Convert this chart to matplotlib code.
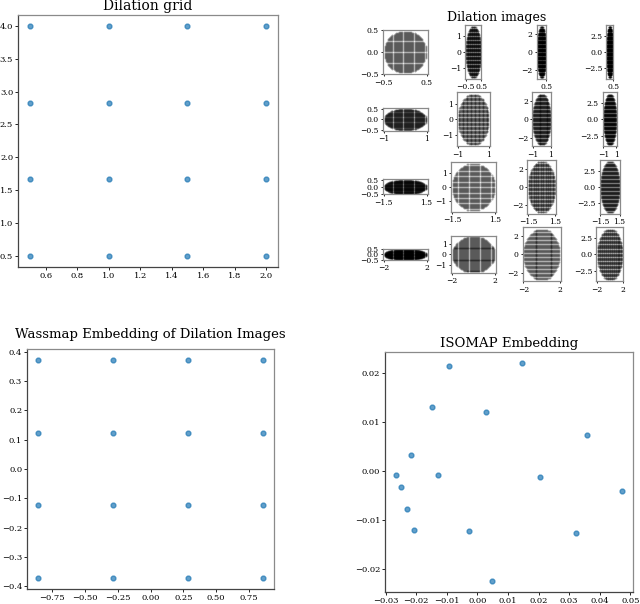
import numpy as np
import matplotlib
matplotlib.use("Agg")
import matplotlib.pyplot as plt

plt.rcParams['font.family'] = ['DejaVu Serif']

# ---- data ----
dil_x = [0.5, 1.0, 1.5, 2.0]            # x dilation per image row / grid x
dil_y = [0.5, 1.667, 2.833, 4.0]        # y dilation per image column / grid y

wass_x = [-0.857, -0.286, 0.286, 0.857]
wass_y = [0.372, 0.124, -0.124, -0.372]

iso_x = [-0.00915, 0.01442, -0.01472, 0.00285, 0.0357, -0.02181, -0.02651, -0.01275,
         0.02032, -0.02498, 0.04717, -0.0229, -0.02083, -0.00271, 0.03232, 0.00482]
iso_y = [0.02136, 0.02203, 0.01308, 0.01207, 0.00739, 0.00332, -0.00088, -0.00095,
         -0.00129, -0.00332, -0.0042, -0.00773, -0.01214, -0.01234, -0.01268, -0.02251]

img_yticks = [[-0.5, 0.0, 0.5], [-1, 0, 1], [-2, 0, 2], [-2.5, 0.0, 2.5]]
grid_res = 40  # points across base disk in each image

W, H = 640, 604
fig = plt.figure(figsize=(W / 100, H / 100), dpi=100)

PT_COLOR = '#1f77b4'


def style_axes(ax, fs=6, tl=2):
    ax.tick_params(labelsize=fs, length=tl, width=0.6, pad=1.5)
    for s in ['left', 'bottom']:
        ax.spines[s].set_color('#444444')
        ax.spines[s].set_linewidth(0.9)
    for s in ['top', 'right']:
        ax.spines[s].set_color('#8a8a8a')
        ax.spines[s].set_linewidth(0.9)


def rect(l, t, r, b):
    return [l / W, (H - b) / H, (r - l) / W, (b - t) / H]


# Dilation grid
ax1 = fig.add_axes(rect(18, 14.5, 278, 267))
gx, gy = np.meshgrid(dil_x, dil_y)
ax1.scatter(gx.ravel(), gy.ravel(), s=12, color=PT_COLOR, alpha=0.7)
ax1.set_title('Dilation grid', fontsize=10, pad=3.2)
style_axes(ax1)

# Wassmap embedding
ax3 = fig.add_axes(rect(27, 349, 274, 589))
wx, wy = np.meshgrid(wass_x, wass_y)
ax3.scatter(wx.ravel(), wy.ravel(), s=12, color=PT_COLOR, alpha=0.7)
ax3.set_title('Wassmap Embedding of Dilation Images', fontsize=9.5, pad=8)
style_axes(ax3)

# ISOMAP
ax4 = fig.add_axes(rect(385, 352, 633, 592))
ax4.scatter(iso_x, iso_y, s=12, color=PT_COLOR, alpha=0.7)
ax4.set_title('ISOMAP Embedding', fontsize=9.5, pad=3.6)
style_axes(ax4)

# Dilation images
gs = fig.add_gridspec(4, 4, left=0.598, right=0.988, top=0.9586, bottom=0.534,
                      wspace=0.52, hspace=0.25)
t = np.linspace(-1, 1, grid_res)
bx, by = np.meshgrid(t, t)
inside = bx ** 2 + by ** 2 <= 1.0
bx, by = bx[inside], by[inside]
for i, dx in enumerate(dil_x):
    for j, dy in enumerate(dil_y):
        ax = fig.add_subplot(gs[i, j])
        ax.scatter(bx * dx, by * dy, s=2, marker='o', c='k', linewidths=0,
                   alpha=0.3)
        ax.set_aspect('equal', adjustable='box')
        if i == 0 and j >= 2:
            ax.set_xticks([dx])
        else:
            ax.set_xticks([-dx, dx])
        ax.set_yticks(img_yticks[j])
        style_axes(ax, fs=5.5, tl=1.5)
        for s in ax.spines.values():
            s.set_color('#8a8a8a')

fig.text(497 / W, 1 - 21 / H, 'Dilation images', fontsize=9, ha='center', va='baseline')

fig.savefig('out.png', dpi=100)
